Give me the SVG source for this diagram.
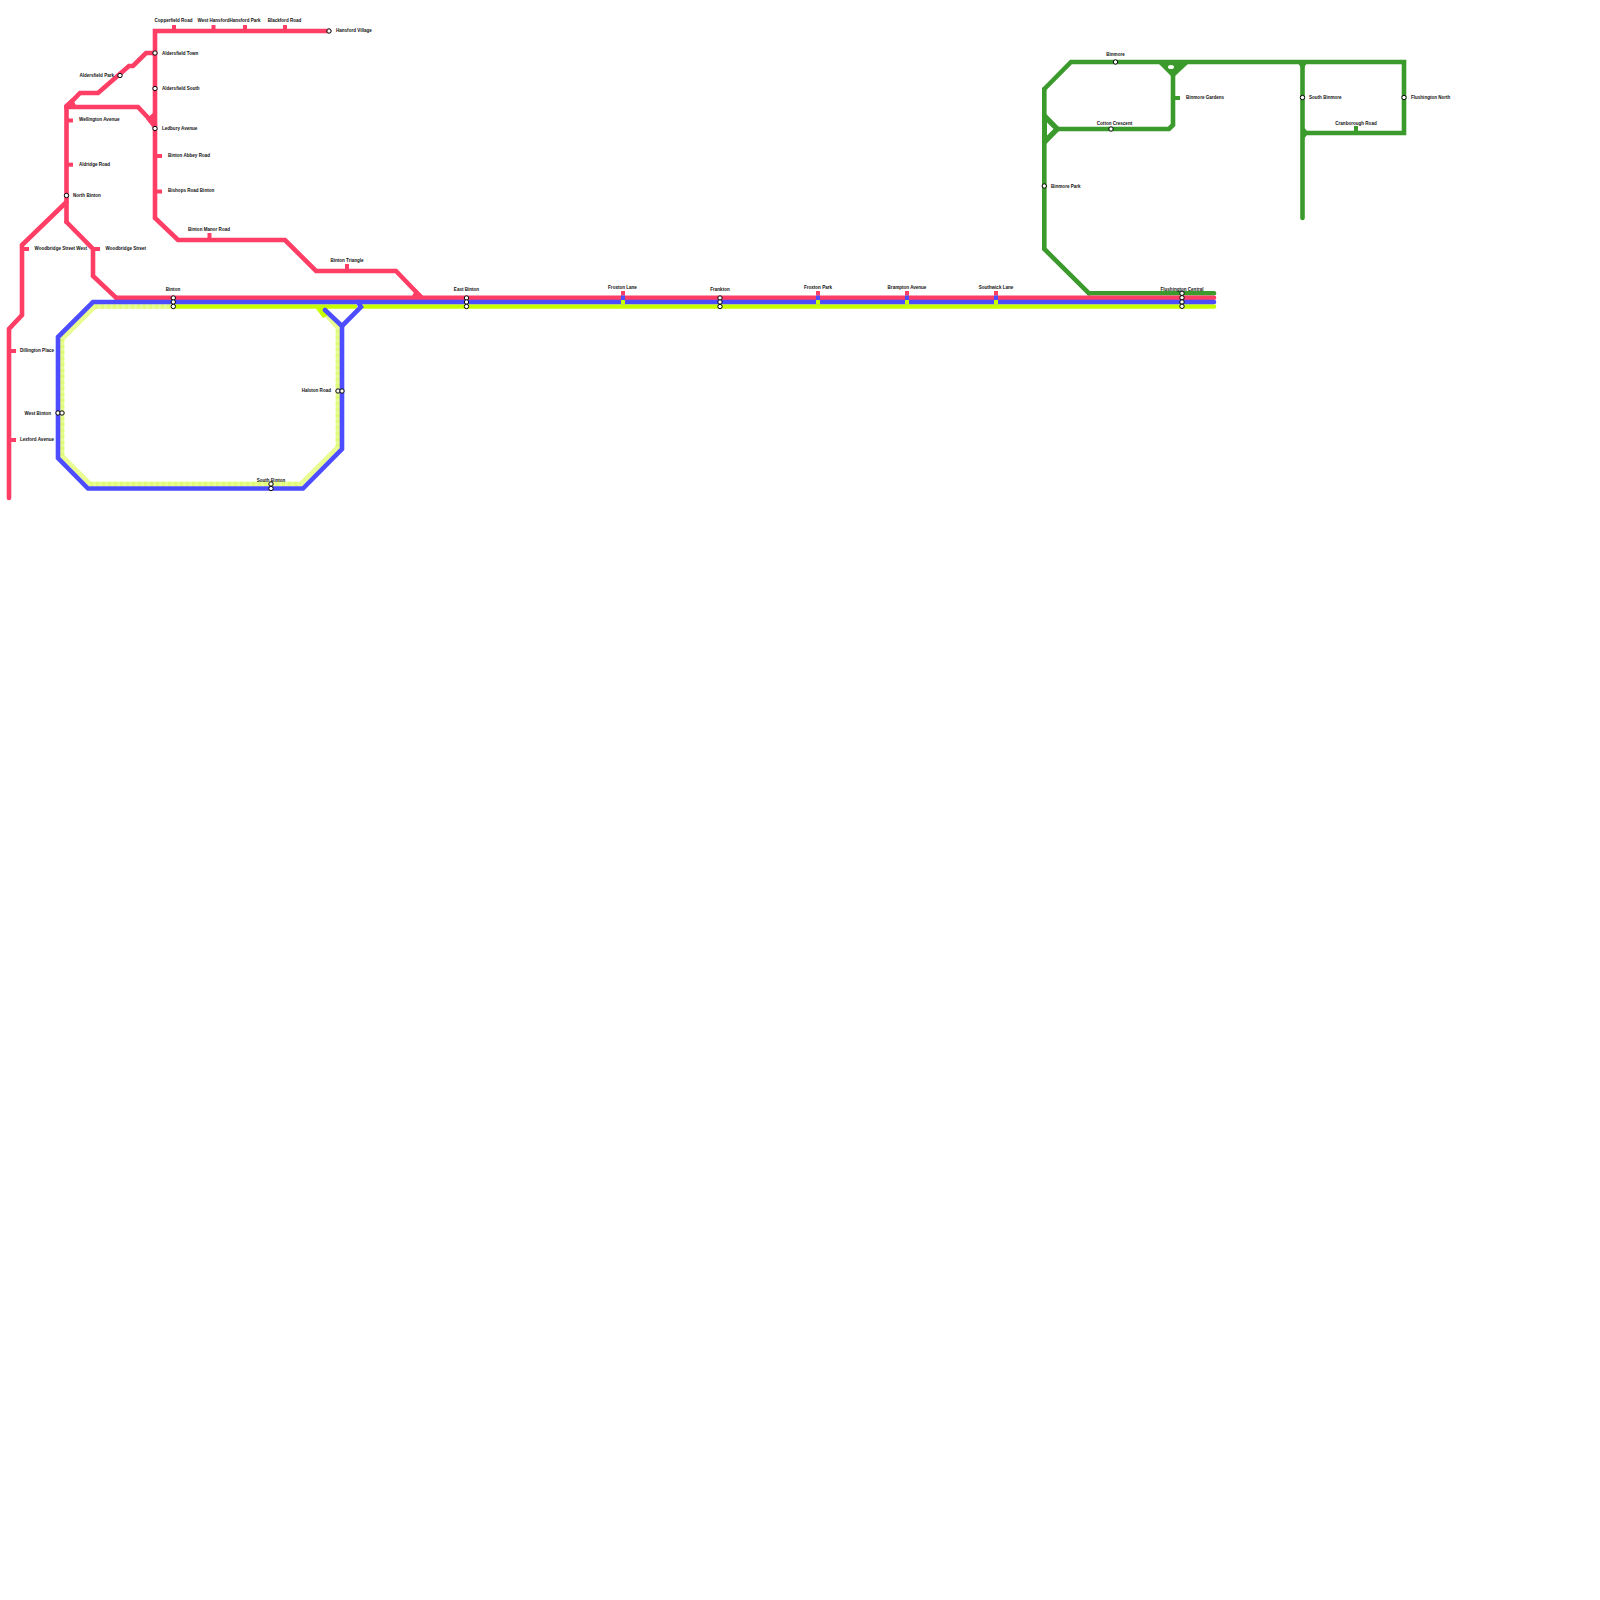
<svg xmlns="http://www.w3.org/2000/svg" width="1600" height="1600" viewBox="0 0 1600 1600">
<style>
.l{fill:none;stroke-width:4.6;stroke-linecap:round;stroke-linejoin:miter}
.r{stroke:#ff3e66}.b{stroke:#4d4dff}.y{stroke:#c8ff00}.g{stroke:#3a9a2b}
.p{stroke:#e8fc90}
.pd{stroke:#e0fb78;stroke-width:4.6;fill:none;stroke-dasharray:3 3}
.t{fill:none;stroke-width:4;stroke-linecap:butt}
.s{fill:#fff;stroke:#000;stroke-width:1}
.fg{fill:#3a9a2b}.fr{fill:#ff3e66}.fy{fill:#c8ff00}
text{font-family:"Liberation Sans",Arial,sans-serif;font-size:4.55px;font-weight:700;fill:#111}
.m{text-anchor:middle}.e{text-anchor:end}
</style>
<rect width="1600" height="1600" fill="#fff"/>
<g id="connectors">
<path class="l g" d="M1089 293.3H1214"/>
<path class="l g" d="M1044.3 89V249L1089 293.3"/>
<path class="l g" d="M1044.3 89L1071 62H1404V133H1307"/>
<path class="fg" d="M1044.3 112L1061 129L1044.3 146Z"/>
<path fill="#fff" d="M1047 122.500L1053.500 129L1047 135.500Z"/>
<path class="l g" d="M1058 129H1169L1173 125V75"/>
<path class="fg" d="M1157 62H1190L1173 78Z"/>
<ellipse cx="1171" cy="67" rx="3" ry="2" fill="#fff"/>
<path class="l g" d="M1302.500 66.500V218"/>
<path class="fg" d="M1296 60H1309L1302.500 70Z"/>
<path class="fg" d="M1302.500 126L1309 133L1302.500 140Z"/>
<path class="fg" d="M1399 60H1406V67Z"/>
<path class="fg" d="M1406 128V135H1399Z"/>
<path class="l r" d="M116 297.700H1214"/>
<path class="l r" d="M329 31H155V218L178 240H285L316 271H396L421 297"/>
<path class="fr" d="M153 29H162L153 37Z"/>
<path class="fr" d="M412 296H423L416 289Z"/>
<path class="l r" d="M66.500 222V107L80 93H98L129 66H133L146 53H155"/>
<path class="fr" d="M148 51H155V58Z"/>
<path class="l r" d="M66.500 107H138L155 125"/>
<path class="fr" d="M64.200 105L72 98L78 109H64.200Z"/>
<path class="fr" d="M153 113V128L146 119Z"/>
<path class="l r" d="M66.500 222L93 249V276L116 297.700"/>
<path class="l r" d="M66.500 202L22 245V315L9 329V498"/>
<path class="l p" d="M95 306.500L62 339V456L90 484H301L338 447V328L328 317"/>
<path class="l p" d="M95 306.500H173"/>
<path class="pd" d="M95 306.500H173"/>
<path class="pd" d="M62 339V456"/>
<path class="pd" d="M90 484H301"/>
<path class="pd" d="M338 447V328"/>
<path class="l y" d="M173 306.500H355"/>
<path class="l y" d="M363 306.500H1214"/>
<path class="fy" d="M314 306H328L327 316L323 318Z"/>
<path class="l b" d="M1214 302H93L58 337V458L88 488.500H303L342 449V326L325 310"/>
<path class="l b" d="M342 326L361 307L358 302"/>
</g>
<g id="copperfield-road"><path class="t r" d="M174 31V25"/><text class="m" x="173.500" y="22.300">Copperfield Road</text></g>
<g id="west-hansford"><path class="t r" d="M213.500 31V25"/><text class="m" x="213.500" y="22.300">West Hansford</text></g>
<g id="hansford-park"><path class="t r" d="M245 31V25"/><text class="m" x="245" y="22.300">Hansford Park</text></g>
<g id="blackford-road"><path class="t r" d="M285 31V25"/><text class="m" x="284.500" y="22.300">Blackford Road</text></g>
<g id="hansford-village"><circle class="s" cx="329" cy="31" r="2.200"/><text x="336" y="32.300">Hansford Village</text></g>
<g id="aldersfield-town"><circle class="s" cx="155" cy="53" r="2.200"/><text x="162" y="54.500">Aldersfield Town</text></g>
<g id="aldersfield-south"><circle class="s" cx="155" cy="88.500" r="2.200"/><text x="162" y="90">Aldersfield South</text></g>
<g id="ledbury-avenue"><circle class="s" cx="155" cy="128.500" r="2.200"/><text x="162" y="130">Ledbury Avenue</text></g>
<g id="binton-abbey-road"><path class="t r" d="M155 156H162"/><text x="168" y="156.700">Binton Abbey Road</text></g>
<g id="bishops-road-binton"><path class="t r" d="M155 191.500H162"/><text x="168" y="192.200">Bishops Road Binton</text></g>
<g id="aldersfield-park"><circle class="s" cx="120" cy="75.500" r="2.200"/><text class="e" x="114" y="76.700">Aldersfield Park</text></g>
<g id="wellington-avenue"><path class="t r" d="M66.500 120.500H73"/><text x="79" y="121">Wellington Avenue</text></g>
<g id="aldridge-road"><path class="t r" d="M66.500 164.700H73"/><text x="79" y="165.500">Aldridge Road</text></g>
<g id="north-binton"><circle class="s" cx="66.500" cy="195.500" r="2.200"/><text x="73" y="196.700">North Binton</text></g>
<g id="woodbridge-street-west"><path class="t r" d="M22 249H29"/><text x="34.500" y="249.700">Woodbridge Street West</text></g>
<g id="woodbridge-street"><path class="t r" d="M93 249H100"/><text x="105.500" y="249.700">Woodbridge Street</text></g>
<g id="binton-manor-road"><path class="t r" d="M209.500 240V233"/><text class="m" x="209" y="230.700">Binton Manor Road</text></g>
<g id="binton-triangle"><path class="t r" d="M347 271V264"/><text class="m" x="347" y="262.200">Binton Triangle</text></g>
<g id="dillington-place"><path class="t r" d="M9 351H16"/><text class="e" x="54" y="352.200">Dillington Place</text></g>
<g id="lexford-avenue"><path class="t r" d="M9 440H16"/><text class="e" x="54" y="441.200">Lexford Avenue</text></g>
<g id="binton"><circle class="s" cx="173.300" cy="298" r="2.200"/><circle class="s" cx="173.300" cy="302" r="2.200"/><circle class="s" cx="173.300" cy="306.500" r="2.200"/><text class="m" x="173" y="291.200">Binton</text></g>
<g id="west-binton"><circle class="s" cx="58" cy="413" r="2.200"/><circle class="s" cx="62" cy="413" r="2.200"/><text class="e" x="51" y="414.700">West Binton</text></g>
<g id="halston-road"><circle class="s" cx="338" cy="391" r="2.200"/><circle class="s" cx="342" cy="391" r="2.200"/><text class="e" x="331" y="392.200">Halston Road</text></g>
<g id="south-binton"><circle class="s" cx="271" cy="484" r="2.200"/><circle class="s" cx="271" cy="488.500" r="2.200"/><text class="m" x="271" y="482.200">South Binton</text></g>
<g id="east-binton"><circle class="s" cx="466.500" cy="298" r="2.200"/><circle class="s" cx="466.500" cy="302" r="2.200"/><circle class="s" cx="466.500" cy="306.500" r="2.200"/><text class="m" x="466.500" y="291.200">East Binton</text></g>
<g id="frankton"><circle class="s" cx="720" cy="298" r="2.200"/><circle class="s" cx="720" cy="302" r="2.200"/><circle class="s" cx="720" cy="306.500" r="2.200"/><text class="m" x="720" y="291.200">Frankton</text></g>
<g id="froxton-lane"><path class="t r" d="M623 291V295.500"/><path class="t b" d="M623 295.500V300"/><path class="t y" d="M623 300V304.500"/><text class="m" x="622.500" y="288.700">Froxton Lane</text></g>
<g id="froxton-park"><path class="t r" d="M818 291V295.500"/><path class="t b" d="M818 295.500V300"/><path class="t y" d="M818 300V304.500"/><text class="m" x="818" y="288.700">Froxton Park</text></g>
<g id="brampton-avenue"><path class="t r" d="M907 291V295.500"/><path class="t b" d="M907 295.500V300"/><path class="t y" d="M907 300V304.500"/><text class="m" x="907" y="288.700">Brampton Avenue</text></g>
<g id="southwick-lane"><path class="t r" d="M996 291V295.500"/><path class="t b" d="M996 295.500V300"/><path class="t y" d="M996 300V304.500"/><text class="m" x="996" y="288.700">Southwick Lane</text></g>
<g id="flushington-central"><circle class="s" cx="1182" cy="293.300" r="2.200"/><circle class="s" cx="1182" cy="297.700" r="2.200"/><circle class="s" cx="1182" cy="302" r="2.200"/><circle class="s" cx="1182" cy="306.300" r="2.200"/><text class="m" x="1182" y="291.200">Flushington Central</text></g>
<g id="binmore"><circle class="s" cx="1115.500" cy="62" r="2.200"/><text class="m" x="1115.500" y="55.700">Binmore</text></g>
<g id="cotton-crescent"><circle class="s" cx="1111" cy="129" r="2.200" stroke-width="1.300"/><text class="m" x="1114.500" y="124.700">Cotton Crescent</text></g>
<g id="binmore-gardens"><path class="t g" d="M1173 98H1180"/><text x="1186" y="98.700">Binmore Gardens</text></g>
<g id="binmore-park"><circle class="s" cx="1044.300" cy="186" r="2.200"/><text x="1051" y="187.700">Binmore Park</text></g>
<g id="south-binmore"><circle class="s" cx="1302.500" cy="97.500" r="2.200"/><text x="1309" y="98.700">South Binmore</text></g>
<g id="flushington-north"><circle class="s" cx="1404" cy="97.500" r="2.200"/><text x="1411" y="98.700">Flushington North</text></g>
<g id="cranborough-road"><path class="t g" d="M1356 133V126"/><text class="m" x="1356" y="124.700">Cranborough Road</text></g>
</svg>
